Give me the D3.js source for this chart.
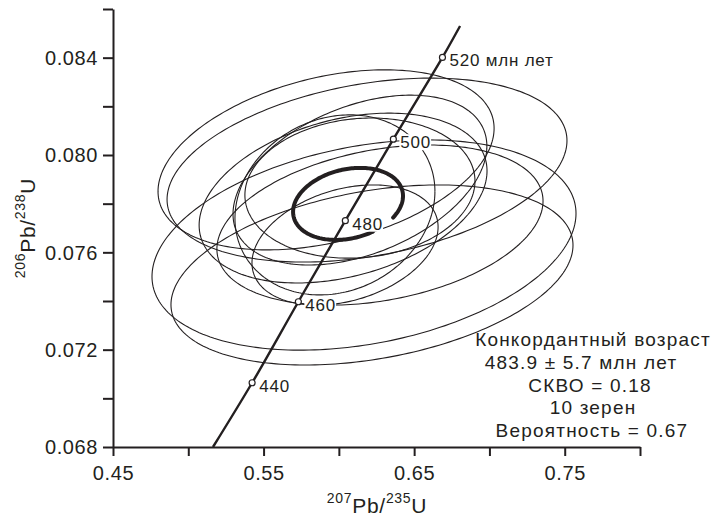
<!DOCTYPE html>
<html>
<head>
<meta charset="utf-8">
<script src="https://cdn.jsdelivr.net/npm/d3@7/dist/d3.min.js"></script>
<style>
  html, body { margin: 0; padding: 0; background: #fff; }
  svg { display: block; font-family: "Liberation Sans", Arial, Helvetica, sans-serif; }
</style>
</head>
<body>
<svg id="chart" width="725" height="518"></svg>
<script>
// Axis ticks
const xTicks = [0.45, 0.50, 0.55, 0.60, 0.65, 0.70, 0.75, 0.80];
const xTickLabels = ["0.45", "", "0.55", "", "0.65", "", "0.75", ""];
const yTicks = [0.068, 0.070, 0.072, 0.074, 0.076, 0.078, 0.080, 0.082, 0.084, 0.086];
const yTickLabels = ["0.068", "", "0.072", "", "0.076", "", "0.080", "", "0.084", ""];

// Concordia curve (207Pb/235U, 206Pb/238U)
const concordiaX = [0.5164, 0.5424, 0.5731, 0.6043, 0.6362, 0.6688, 0.6805];
const concordiaY = [0.0680, 0.07064, 0.07397, 0.07730, 0.08065, 0.08401, 0.0853];

// Age marks on the concordia, Ma
const markAges = [440, 460, 480, 500, 520];
const markX = [0.5424, 0.5731, 0.6043, 0.6362, 0.6688];
const markY = [0.07064, 0.07397, 0.07730, 0.08065, 0.08401];
const markLabels = ["440", "460", "480", "500", "520 млн лет"];

// Grain error ellipses: centre, half-extents and error correlation
const ellCx  = [0.5915, 0.6187, 0.6167, 0.6220, 0.6140, 0.5974, 0.6273, 0.6028, 0.6041, 0.6140];
const ellCy  = [0.07980, 0.07938, 0.07630, 0.07507, 0.07897, 0.07795, 0.07712, 0.07823, 0.07630, 0.07864];
const ellSx  = [0.1116, 0.1328, 0.1408, 0.1335, 0.0843, 0.0664, 0.1083, 0.0956, 0.0618, 0.0764];
const ellSy  = [0.00370, 0.00378, 0.00432, 0.00370, 0.00349, 0.00370, 0.00329, 0.00349, 0.00247, 0.00288];
const ellRho = [0.35, 0.32, 0.30, 0.33, 0.40, 0.15, 0.30, 0.32, 0.30, 0.10];

// Concordant age ellipse
const meanCx = 0.6061, meanCy = 0.07799, meanSx = 0.0365, meanSy = 0.00148, meanRho = 0.22;

// Result block
const resultLines = [
  "Конкордантный возраст",
  "483.9 ± 5.7 млн лет",
  "СКВО = 0.18",
  "10 зерен",
  "Вероятность = 0.67"
];

const ink = "#231f20";
const svg = d3.select("#chart");

const x = d3.scaleLinear().domain([0.45, 0.80]).range([113, 640]);
const y = d3.scaleLinear().domain([0.068, 0.086]).range([447, 9]);

// Ellipse outline in data space
function ellipsePoints(cx, cy, sx, sy, rho, t0, t1, n) {
  const pts = [];
  const k = Math.sqrt(1 - rho * rho);
  for (let i = 0; i <= n; i++) {
    const t = t0 + (t1 - t0) * i / n;
    pts.push([cx + sx * Math.cos(t), cy + sy * (rho * Math.cos(t) + k * Math.sin(t))]);
  }
  return pts;
}
const line = d3.line().x(d => x(d[0])).y(d => y(d[1]));

const gEll = svg.append("g");
const gBg = svg.append("g");
const gLine = svg.append("g");
const gMark = svg.append("g");
const gText = svg.append("g");

ellCx.forEach((cx, i) => {
  gEll.append("path")
    .attr("d", line(ellipsePoints(cx, ellCy[i], ellSx[i], ellSy[i], ellRho[i], 0, 2 * Math.PI, 240)))
    .attr("fill", "none").attr("stroke", ink).attr("stroke-width", 1.1);
});

gEll.append("path")
  .attr("d", line(ellipsePoints(meanCx, meanCy, meanSx, meanSy, meanRho, -0.61, 2 * Math.PI - 1.10, 200)))
  .attr("fill", "none").attr("stroke", ink).attr("stroke-width", 4).attr("stroke-linecap", "round");

// Concordia
gLine.append("path")
  .attr("d", d3.line().curve(d3.curveCatmullRom).x((d, i) => x(concordiaX[i])).y((d, i) => y(concordiaY[i]))(concordiaX))
  .attr("fill", "none").attr("stroke", ink).attr("stroke-width", 2.4);

markAges.forEach((a, i) => {
  const px = x(markX[i]), py = y(markY[i]);
  gMark.append("circle").attr("cx", px).attr("cy", py).attr("r", 3)
    .attr("fill", "#fff").attr("stroke", ink).attr("stroke-width", 1.2);
  const t = gText.append("text").attr("x", px + 7).attr("y", py + 9)
    .attr("font-size", 17).attr("letter-spacing", 0.8).attr("fill", ink).text(markLabels[i]);
  const b = t.node().getBBox();
  gBg.append("rect").attr("x", b.x - 1).attr("y", b.y + 1).attr("width", b.width + 1).attr("height", b.height - 3)
    .attr("fill", "#fff");
});

// Axes
const xAxis = d3.axisBottom(x).tickValues(xTicks).tickSize(9).tickSizeOuter(0)
  .tickFormat((d, i) => xTickLabels[i]);
const gx = svg.append("g").attr("transform", "translate(0,447)").call(xAxis);
const yAxis = d3.axisLeft(y).tickValues(yTicks).tickSize(10).tickSizeOuter(0)
  .tickFormat((d, i) => yTickLabels[i]);
const gy = svg.append("g").attr("transform", "translate(113,0)").call(yAxis);

[gx, gy].forEach(g => {
  g.select(".domain").attr("stroke", ink).attr("stroke-width", 2);
  g.selectAll(".tick line").attr("stroke", ink).attr("stroke-width", 2);
  g.selectAll(".tick text").attr("fill", ink).attr("font-size", 20).attr("letter-spacing", 0.6)
    .attr("font-family", "'Liberation Sans', Arial, Helvetica, sans-serif");
});
gx.selectAll(".tick text").attr("y", 19).attr("dy", "0.71em");
gy.selectAll(".tick text").attr("x", -15).attr("dy", "0.34em");

// Axis titles
const xt = svg.append("text").attr("x", 377).attr("y", 513).attr("text-anchor", "middle")
  .attr("font-size", 21).attr("letter-spacing", 0.7).attr("fill", ink);
xt.append("tspan").attr("font-size", 14).attr("dy", -10).text("207");
xt.append("tspan").attr("dy", 10).text("Pb/");
xt.append("tspan").attr("font-size", 14).attr("dy", -10).text("235");
xt.append("tspan").attr("dy", 10).text("U");

const yt = svg.append("text").attr("transform", "translate(35,228) rotate(-90)").attr("text-anchor", "middle")
  .attr("font-size", 21).attr("letter-spacing", 0.7).attr("fill", ink);
yt.append("tspan").attr("font-size", 14).attr("dy", -10).text("206");
yt.append("tspan").attr("dy", 10).text("Pb/");
yt.append("tspan").attr("font-size", 14).attr("dy", -10).text("238");
yt.append("tspan").attr("dy", 10).text("U");

// Result block
const resultX = [593, 581, 590, 593, 592];
resultLines.forEach((s, i) => {
  svg.append("text").attr("x", resultX[i]).attr("y", 346 + i * 22.8).attr("text-anchor", "middle")
    .attr("font-size", 19).attr("letter-spacing", 1.2).attr("fill", ink).text(s);
});
</script>
</body>
</html>
